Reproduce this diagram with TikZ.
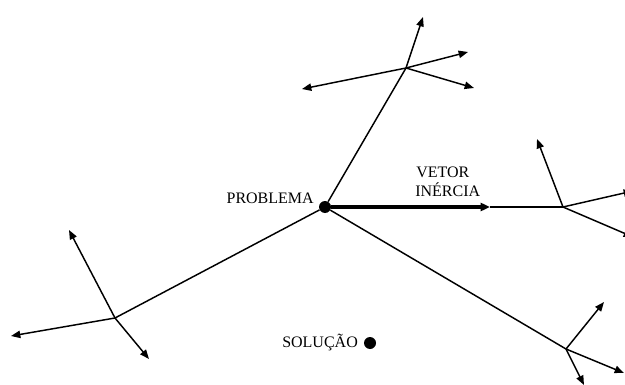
\documentclass[tikz,border=0pt]{standalone}
\usepackage{fontspec}
\setmainfont{Liberation Serif}
\usetikzlibrary{arrows.meta}
\begin{document}
\begin{tikzpicture}[x=0.75pt,y=-0.75pt,
  branch/.style={line width=1.1pt},
  arr/.style={line width=1.1pt,-{Triangle[length=7pt,width=5.5pt]}},
  thick arr/.style={line width=2.4pt,-{Triangle[length=7pt,width=6pt]}},
  lbl/.style={font=\fontsize{12}{14}\selectfont,inner sep=0pt},
  dot/.style={circle,fill=black,inner sep=0pt,minimum size=12*0.75pt}]
\useasboundingbox (0,0) rectangle (625,385);
\clip (0,0) rectangle (625,385);
% hubs
\coordinate (T) at (406,68);
\coordinate (R) at (563,207);
\coordinate (L) at (566,349);
\coordinate (B) at (115,318);
\coordinate (V) at (490,207);
% arrow ends
\coordinate (T1) at (423,17);
\coordinate (T2) at (468,52);
\coordinate (T3) at (474,88);
\coordinate (T4) at (302,89);
\coordinate (R1) at (537,139);
\coordinate (R2) at (633,191);
\coordinate (R3) at (633,237);
\coordinate (L1) at (604,302);
\coordinate (L2) at (624,373);
\coordinate (L3) at (584,385);
\coordinate (B1) at (69,230);
\coordinate (B2) at (11,336);
\coordinate (B3) at (149,359);
% central dot and main lines
\node[dot] (P) at (325,207) {};
\draw[branch] (P) -- (T);
\draw[branch] (P) -- (L);
\draw[branch] (P) -- (B);
\draw[branch] (V) -- (R);
\draw[thick arr] (P) -- (V);
% branch arrows
\foreach \e in {T1,T2,T3,T4} \draw[arr] (T) -- (\e);
\foreach \e in {R1,R2,R3} \draw[arr] (R) -- (\e);
\foreach \e in {L1,L2,L3} \draw[arr] (L) -- (\e);
\foreach \e in {B1,B2,B3} \draw[arr] (B) -- (\e);
% labels
\node[lbl,anchor=base east] (prob) at (314,203.5) {PROBLEMA};
\node[lbl,anchor=base west] (vet) at (416,177.5) {VETOR};
\node[lbl,anchor=base west] (ine) at (415,196.5) {INÉRCIA};
\node[lbl,anchor=base west] (sol) at (282,347.5) {SOLUÇÃO};
\node[dot] (S) at (370,343) {};
\end{tikzpicture}
\end{document}
